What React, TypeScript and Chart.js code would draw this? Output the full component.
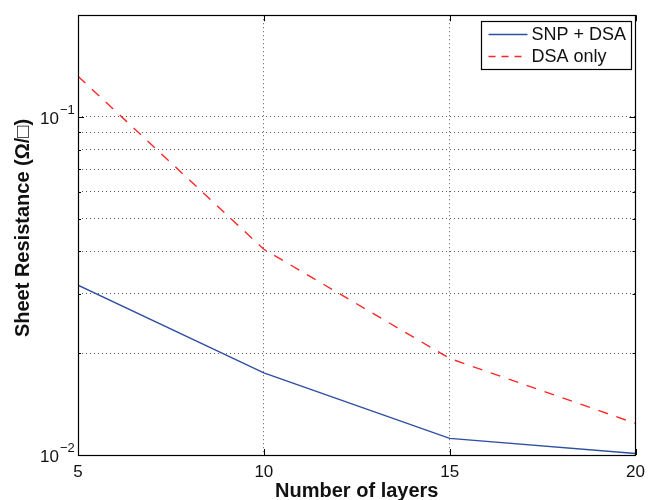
import React, { useEffect, useRef } from "react";
import { Chart, registerables } from "chart.js";

Chart.register(...registerables);

const layers = [5, 10, 15, 20];
const snpDsa = [0.0318, 0.0175, 0.0112, 0.0101];
const dsaOnly = [0.132, 0.0406, 0.0193, 0.0124];
const seriesNames = ["SNP + DSA", "DSA only"];
const yMajor = [0.01, 0.1];
const yMajorBase = ["10", "10"];
const yMajorExp = ["\u22122", "\u22121"];
const yMinor = [0.02, 0.03, 0.04, 0.05, 0.06, 0.07, 0.08, 0.09, 0.2];
const xTitle = "Number of layers";
const yTitle = "Sheet Resistance (\u03A9/\u25A1)";

const FONT = "'Liberation Sans', Arial, Helvetica, sans-serif";
const BLUE = "#2f4fa3";
const RED = "#ff2626";

const framePlugin = {
  id: "frame",
  afterDraw(chart: any) {
    const { ctx, chartArea: a, scales } = chart;
    const xs = scales.x;
    const ys = scales.y;
    ctx.save();
    ctx.strokeStyle = "#000";
    ctx.lineWidth = 1;
    ctx.setLineDash([]);
    // tick marks inward
    ctx.beginPath();
    layers.forEach((v) => {
      const px = Math.round(xs.getPixelForValue(v)) + 0.5;
      ctx.moveTo(px, a.bottom);
      ctx.lineTo(px, a.bottom - 6);
      ctx.moveTo(px, a.top);
      ctx.lineTo(px, a.top + 6);
    });
    yMajor.forEach((v) => {
      const py = Math.round(ys.getPixelForValue(v)) + 0.5;
      ctx.moveTo(a.left, py);
      ctx.lineTo(a.left + 6, py);
      ctx.moveTo(a.right, py);
      ctx.lineTo(a.right - 6, py);
    });
    yMinor.forEach((v) => {
      const py = Math.round(ys.getPixelForValue(v)) + 0.5;
      ctx.moveTo(a.left, py);
      ctx.lineTo(a.left + 3, py);
      ctx.moveTo(a.right, py);
      ctx.lineTo(a.right - 3, py);
    });
    ctx.stroke();
    ctx.lineWidth = 1.2;
    ctx.strokeRect(Math.round(a.left) + 0.5, Math.round(a.top) + 0.5, Math.round(a.right - a.left) - 1, Math.round(a.bottom - a.top));

    // y tick labels: 10 with superscript exponent
    ctx.fillStyle = "#111";
    yMajor.forEach((v, i) => {
      const py = ys.getPixelForValue(v);
      ctx.font = `17px ${FONT}`;
      ctx.textAlign = "right";
      ctx.textBaseline = "middle";
      ctx.fillText(yMajorBase[i], a.left - 19, py + 2);
      ctx.font = `13px ${FONT}`;
      ctx.textAlign = "left";
      ctx.fillText(yMajorExp[i], a.left - 18, py - 7);
    });

    // axis titles
    ctx.font = `bold 20px ${FONT}`;
    ctx.textAlign = "center";
    ctx.textBaseline = "middle";
    ctx.fillText(xTitle, (a.left + a.right) / 2, 491);
    ctx.save();
    ctx.translate(23, 228);
    ctx.rotate(-Math.PI / 2);
    ctx.fillText(yTitle, 0, 0);
    ctx.restore();

    // legend
    const bx = Math.round(a.right) - 154.5;
    const by = Math.round(a.top) + 6.5;
    const bw = 150;
    const bh = 48;
    ctx.fillStyle = "#fff";
    ctx.fillRect(bx, by, bw, bh);
    ctx.lineWidth = 1.2;
    ctx.strokeStyle = "#000";
    ctx.strokeRect(bx, by, bw, bh);
    const rows = [
      { name: seriesNames[0], color: BLUE, dash: [] as number[] },
      { name: seriesNames[1], color: RED, dash: [7, 6] },
    ];
    ctx.font = `18px ${FONT}`;
    ctx.textBaseline = "middle";
    ctx.textAlign = "left";
    rows.forEach((r, i) => {
      const cy = by + 13 + i * 22;
      ctx.beginPath();
      ctx.strokeStyle = r.color;
      ctx.lineWidth = 1.3;
      ctx.setLineDash(r.dash);
      ctx.moveTo(bx + 7, cy);
      ctx.lineTo(bx + 46, cy);
      ctx.stroke();
      ctx.setLineDash([]);
      ctx.fillStyle = "#111";
      ctx.fillText(r.name, bx + 50, cy + 1);
    });
    ctx.restore();
  },
};

export default function App() {
  const ref = useRef<HTMLCanvasElement | null>(null);
  useEffect(() => {
    document.body.style.margin = "0";
    const canvas = ref.current!;
    const chart = new Chart(canvas, {
      type: "line",
      data: {
        datasets: [
          {
            label: seriesNames[0],
            data: layers.map((x, i) => ({ x, y: snpDsa[i] })),
            borderColor: BLUE,
            backgroundColor: BLUE,
            borderWidth: 1.4,
            pointRadius: 0,
            tension: 0,
          },
          {
            label: seriesNames[1],
            data: layers.map((x, i) => ({ x, y: dsaOnly[i] })),
            borderColor: RED,
            backgroundColor: RED,
            borderWidth: 1.4,
            borderDash: [10, 9],
            pointRadius: 0,
            tension: 0,
          },
        ],
      },
      options: {
        animation: false,
        responsive: false,
        maintainAspectRatio: false,
        layout: { padding: { top: 13, right: 14, left: 0, bottom: 0 } },
        plugins: { legend: { display: false }, tooltip: { enabled: false } },
        scales: {
          x: {
            type: "linear",
            min: 5,
            max: 20,
            afterFit: (s: any) => {
              s.height = 45;
            },
            ticks: {
              stepSize: 5,
              color: "#111",
              font: { family: FONT, size: 17 },
              padding: 7,
              maxRotation: 0,
              autoSkip: false,
            },
            grid: { color: "rgba(0,0,0,0.65)", drawTicks: false, lineWidth: 1 },
            border: { display: false, dash: [1, 3] },
            title: { display: false, text: xTitle },
          },
          y: {
            type: "logarithmic",
            min: 0.01,
            max: 0.2,
            afterFit: (s: any) => {
              s.width = 78;
            },
            afterBuildTicks: (s: any) => {
              s.ticks = [...yMajor, ...yMinor].sort((p, q) => p - q).map((v) => ({ value: v }));
            },
            ticks: {
              color: "#111",
              font: { family: FONT, size: 17 },
              padding: 5,
              autoSkip: false,
              callback: () => "",
            },
            grid: { color: "rgba(0,0,0,0.65)", drawTicks: false, lineWidth: 1 },
            border: { display: false, dash: [1, 3] },
            title: { display: false, text: yTitle },
          },
        },
      },
      plugins: [framePlugin],
    } as any);
    return () => chart.destroy();
  }, []);
  return (
    <div style={{ width: 652, height: 500, background: "#fff" }}>
      <canvas ref={ref} width={652} height={500} style={{ display: "block" }} />
    </div>
  );
}
